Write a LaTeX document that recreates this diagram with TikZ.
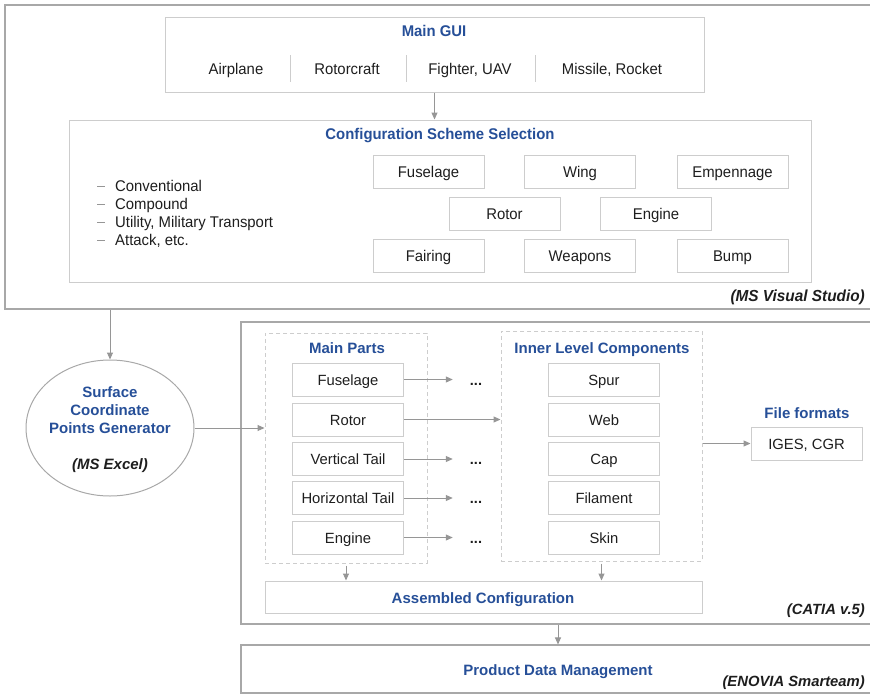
\documentclass[tikz,border=0pt]{standalone}
\usepackage{fontspec}
\setmainfont{Liberation Sans}
\newfontfamily\condfont{Liberation Sans}[FakeStretch=0.96]
\usetikzlibrary{arrows.meta,shapes.geometric}
\definecolor{titleblue}{RGB}{38,79,152}
\definecolor{outergray}{RGB}{168,168,168}
\definecolor{boxgray}{RGB}{205,205,205}
\definecolor{arrowgray}{RGB}{150,150,150}
\definecolor{textgray}{RGB}{30,30,30}
\newcommand{\fsz}[1]{\fontsize{#1}{#1}\selectfont}
\tikzset{
  line/.style={text height=14.8pt, text depth=3pt},
  outerbox/.style={draw=outergray, line width=1.1pt, inner sep=0pt},
  innerbox/.style={draw=boxgray, line width=1pt, inner sep=0pt},
  dashbox/.style={draw=boxgray, line width=1pt, dash pattern=on 4pt off 3pt, inner sep=0pt},
  part/.style={draw=boxgray, line width=1pt, minimum width=111pt, minimum height=33pt,
               inner sep=0pt, line, text=textgray, font=\fsz{14.8}},
  cpart/.style={part, font=\condfont\fsz{15.5}},
  btitle/.style={text=titleblue, font=\bfseries\fsz{15}, inner sep=0pt, line},
  ctitle/.style={text=titleblue, font=\condfont\bfseries\fsz{15.5}, inner sep=0pt, line},
  cplain/.style={text=textgray, font=\condfont\fsz{15.5}, inner sep=0pt, line},
  tool/.style={text=textgray, font=\bfseries\itshape\fsz{14.8}, inner sep=0pt, anchor=east, line},
  ctool/.style={tool, font=\condfont\bfseries\itshape\fsz{16}},
  dots/.style={text=textgray, font=\bfseries\fsz{14.5}, inner sep=0pt, line},
  arr/.style={draw=arrowgray, line width=1pt, -{Triangle[length=7pt,width=6pt]}},
  sep/.style={draw=boxgray, line width=1pt},
}
\newcommand{\lidash}{\textcolor{arrowgray}{\rule[0.3em]{8pt}{0.8pt}}\hspace{10pt}}
\begin{document}
\begin{tikzpicture}[x=1pt,y=-1pt]
\useasboundingbox (0,0) rectangle (870,694);

% ---------- MS Visual Studio block ----------
\node[outerbox, minimum width=870pt, minimum height=304pt] (vs) at (440,157) {};
\node[ctool] (vslabel) at (865,296) {(MS Visual Studio)};

% Main GUI
\node[innerbox, minimum width=539pt, minimum height=75pt] (gui) at (434.5,54.5) {};
\node[ctitle] (guititle) at (434,31) {Main GUI};
\node[cplain] (airplane) at (236,69) {Airplane};
\node[cplain] (rotorcraft) at (347,69) {Rotorcraft};
\node[cplain] (fighter) at (470,69) {Fighter, UAV};
\node[cplain] (missile) at (612,69) {Missile, Rocket};
\coordinate (s1a) at (290,55); \coordinate (s1b) at (290,82);
\coordinate (s2a) at (406,55); \coordinate (s2b) at (406,82);
\coordinate (s3a) at (535,55); \coordinate (s3b) at (535,82);
\draw[sep] (s1a) -- (s1b);
\draw[sep] (s2a) -- (s2b);
\draw[sep] (s3a) -- (s3b);

% Configuration scheme selection
\node[innerbox, minimum width=742pt, minimum height=162pt] (cfg) at (440,201) {};
\node[ctitle] (cfgtitle) at (440,134) {Configuration Scheme Selection};
\node[cpart] (cFus) at (428.5,171.5) {Fuselage};
\node[cpart] (cWing) at (580,171.5) {Wing};
\node[cpart] (cEmp) at (732.5,171.5) {Empennage};
\node[cpart] (cRot) at (504.5,213.5) {Rotor};
\node[cpart] (cEng) at (656,213.5) {Engine};
\node[cpart] (cFair) at (428.5,255.5) {Fairing};
\node[cpart] (cWeap) at (580,255.5) {Weapons};
\node[cpart] (cBump) at (732.5,255.5) {Bump};

\node[cplain, anchor=west] (l1) at (97,186) {\lidash Conventional};
\node[cplain, anchor=west] (l2) at (97,204) {\lidash Compound};
\node[cplain, anchor=west] (l3) at (97,222) {\lidash Utility, Military Transport};
\node[cplain, anchor=west] (l4) at (97,240) {\lidash Attack, etc.};

\draw[arr] (gui.south) -- (cfg.north -| gui.south);

% ---------- Surface coordinate points generator ----------
\node[ellipse, draw=outergray, line width=1pt, minimum width=168pt, minimum height=136pt,
      inner sep=0pt] (gen) at (110,428) {};
\node[inner sep=0pt, align=center, text=titleblue, font=\bfseries\fontsize{15}{18}\selectfont]
  (gentext) at (110,430)
  {Surface\\Coordinate\\Points Generator\\[18pt]{\color{textgray}\itshape (MS Excel)}};
\draw[arr] (vs.south -| gen.north) -- (gen.north);

% ---------- CATIA block ----------
\node[outerbox, minimum width=640pt, minimum height=302pt] (catia) at (561,473) {};
\node[tool] (catialabel) at (865,609) {(CATIA v.5)};

% Main parts
\node[dashbox, minimum width=162pt, minimum height=230pt] (mp) at (346,448) {};
\node[btitle] (mptitle) at (347,348) {Main Parts};
\node[part] (mFus) at (348,379.5) {Fuselage};
\node[part] (mRot) at (348,419.5) {Rotor};
\node[part] (mVt) at (348,459) {Vertical Tail};
\node[part] (mHt) at (348,498) {Horizontal Tail};
\node[part] (mEng) at (348,537.5) {Engine};

% Continuation dots
\node[dots] (d1) at (476,380) {...};
\node[dots] (d2) at (476,459) {...};
\node[dots] (d3) at (476,498) {...};
\node[dots] (d4) at (476,538) {...};

% Inner level components
\node[dashbox, minimum width=201pt, minimum height=230pt] (inner) at (601.5,446) {};
\node[btitle] (intitle) at (602,348) {Inner Level Components};
\node[part] (iSpur) at (604,379.5) {Spur};
\node[part] (iWeb) at (604,419.5) {Web};
\node[part] (iCap) at (604,459) {Cap};
\node[part] (iFil) at (604,498) {Filament};
\node[part] (iSkin) at (604,537.5) {Skin};

% File formats
\node[btitle] (fftitle) at (807,413) {File formats};
\node[part] (ff) at (806.5,443.5) {IGES, CGR};

% Assembled configuration
\node[innerbox, minimum width=437pt, minimum height=32pt] (asm) at (483.5,597) {};
\node[btitle] (asmtitle) at (483,598) {Assembled Configuration};

% Connectors inside CATIA
\draw[arr] (gen.east) -- (mp.west |- gen.east);
\draw[arr, shorten >=17pt] (mFus.east) -- (mFus.east -| d1.west);
\draw[arr, shorten >=17pt] (mVt.east) -- (mVt.east -| d2.west);
\draw[arr, shorten >=17pt] (mHt.east) -- (mHt.east -| d3.west);
\draw[arr, shorten >=17pt] (mEng.east) -- (mEng.east -| d4.west);
\draw[arr] (mRot.east) -- (inner.west |- mRot.east);
\draw[arr] (inner.east |- ff.west) -- (ff.west);
\draw[arr, shorten <=2pt] (mp.south) -- (asm.north -| mp.south);
\draw[arr, shorten <=2pt] (inner.south) -- (asm.north -| inner.south);

% ---------- Product data management ----------
\node[outerbox, minimum width=640pt, minimum height=48pt] (pdm) at (561,669) {};
\node[btitle] (pdmtitle) at (558,670) {Product Data Management};
\node[tool] (pdmlabel) at (865,681) {(ENOVIA Smarteam)};
\draw[arr] (catia.south -| pdmtitle) -- (pdm.north -| pdmtitle);
\end{tikzpicture}
\end{document}
